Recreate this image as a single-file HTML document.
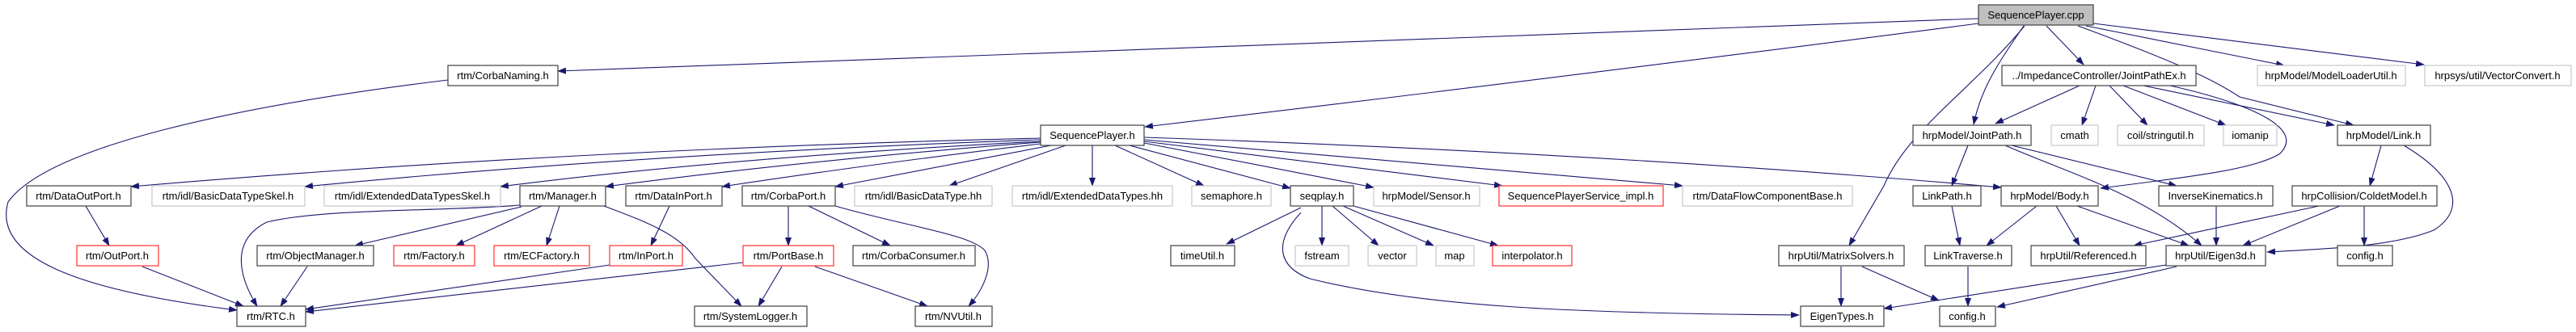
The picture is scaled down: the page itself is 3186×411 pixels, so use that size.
<!DOCTYPE html>
<html><head><meta charset="utf-8"><style>
html,body{margin:0;padding:0;background:#fff}
svg{display:block}
text{font-family:"Liberation Sans",Arial,sans-serif;font-size:13px;fill:#000}
.e{fill:none;stroke:#191970;stroke-width:1.1}
.k rect{fill:#fff;stroke:#404040;stroke-width:1.2}
.r rect{fill:#fff;stroke:#ff3030;stroke-width:1.2}
.g rect{fill:#fff;stroke:#c8c8c8;stroke-width:1.2}
.c rect{fill:#bfbfbf;stroke:#404040;stroke-width:1.2}
</style></head><body>
<svg width="3186" height="411" viewBox="0 0 3186 411" xmlns="http://www.w3.org/2000/svg">
<defs><marker id="a" markerWidth="11" markerHeight="8" refX="10" refY="4" orient="auto" markerUnits="userSpaceOnUse"><path d="M0,0L11,4L0,8z" fill="#191970"/></marker></defs>
<g class="e" marker-end="url(#a)">
<!-- from cpp -->
<path d="M2447,23 L690,88"/>
<path d="M2447,29 Q1900,100 1416,157"/>
<path d="M2504,32 C2440,110 2360,160 2330,230 L2287,304"/>
<path d="M2503,32 C2470,80 2450,110 2441,154"/>
<path d="M2531,32 L2577,80"/>
<path d="M2570,32 C2700,80 2740,100 2770,120 L2911,155"/>
<path d="M2580,32 L2825,81"/>
<path d="M2589,29 L2998,80"/>
<!-- from JointPathEx -->
<path d="M2572,106 L2468,153"/>
<path d="M2592,106 L2575,155"/>
<path d="M2609,106 L2656,155"/>
<path d="M2626,106 L2753,155"/>
<path d="M2651,106 L2887,155"/>
<path d="M2684,106 C2790,130 2850,160 2820,190 C2790,210 2700,220 2598,233"/>
<!-- from JointPath -->
<path d="M2434,180 L2414,230"/>
<path d="M2488,180 L2692,230"/>
<path d="M2480,180 C2560,215 2650,240 2723,304"/>
<!-- SequencePlayer.h -->
<path d="M1287,171 Q700,185 162,231"/>
<path d="M1287,173 Q800,190 377,231"/>
<path d="M1287,175 Q900,195 619,231"/>
<path d="M1287,176 Q1000,198 749,231"/>
<path d="M1287,178 Q1100,200 893,231"/>
<path d="M1300,180 L1033,231"/>
<path d="M1318,180 L1174,230"/>
<path d="M1351,180 L1351,230"/>
<path d="M1379,180 L1489,230"/>
<path d="M1397,180 L1596,233"/>
<path d="M1415,177 L1699,232"/>
<path d="M1415,175 L1858,230"/>
<path d="M1415,173 L2081,230"/>
<path d="M1415,170 Q2000,190 2475,232"/>
<!-- row 230 -->
<path d="M106,255 L135,304"/>
<path d="M643,254 C540,262 400,258 330,275 C280,300 300,350 318,379"/>
<path d="M645,256 L439,304"/>
<path d="M670,255 L564,304"/>
<path d="M692,255 L676,304"/>
<path d="M747,255 C800,275 840,290 860,320 L917,379"/>
<path d="M828,255 L805,304"/>
<path d="M975,255 L975,304"/>
<path d="M1000,255 L1101,304"/>
<path d="M1033,255 C1120,280 1200,290 1218,310 C1230,330 1215,360 1198,379"/>
<path d="M554,99 C300,130 60,180 10,250 C-10,320 100,360 293,384"/>
<!-- row 304 -->
<path d="M176,330 L301,379"/>
<path d="M380,330 L347,379"/>
<path d="M754,328 L378,383"/>
<path d="M919,325 L378,386"/>
<path d="M967,330 L938,379"/>
<path d="M1008,330 L1147,379"/>
<!-- seqplay -->
<path d="M1609,257 L1517,302"/>
<path d="M1635,255 L1635,304"/>
<path d="M1648,255 L1705,304"/>
<path d="M1661,255 L1773,304"/>
<path d="M1674,255 L1853,304"/>
<path d="M1609,263 C1575,300 1580,330 1620,345 C1760,380 1950,388 2225,390"/>
<!-- lower right -->
<path d="M2277,330 L2277,379"/>
<path d="M2303,330 L2398,372"/>
<path d="M2679,328 L2330,382"/>
<path d="M2692,330 L2470,380"/>
<path d="M2434,330 L2434,379"/>
<path d="M2414,255 L2424,304"/>
<path d="M2519,255 L2457,304"/>
<path d="M2543,255 L2572,304"/>
<path d="M2569,255 L2707,304"/>
<path d="M2741,255 L2741,304"/>
<path d="M2945,180 L2931,230"/>
<path d="M2973,180 C3040,220 3050,260 3010,285 C2960,305 2880,308 2804,312"/>
<path d="M2868,255 L2639,304"/>
<path d="M2894,255 L2774,304"/>
<path d="M2924,255 L2924,304"/>
</g>
<g text-anchor="middle">
<g class="c"><rect x="2447" y="6" width="142" height="25"/><text x="2518" y="23">SequencePlayer.cpp</text></g>
<g class="k"><rect x="554" y="81" width="136" height="25"/><text x="622" y="98">rtm/CorbaNaming.h</text></g>
<g class="k"><rect x="2476" y="81" width="240" height="25"/><text x="2596" y="98">../ImpedanceController/JointPathEx.h</text></g>
<g class="g"><rect x="2792" y="81" width="183" height="25"/><text x="2883" y="98">hrpModel/ModelLoaderUtil.h</text></g>
<g class="g"><rect x="2999" y="81" width="181" height="25"/><text x="3089" y="98">hrpsys/util/VectorConvert.h</text></g>
<g class="k"><rect x="1287" y="155" width="128" height="25"/><text x="1351" y="172">SequencePlayer.h</text></g>
<g class="k"><rect x="2366" y="155" width="146" height="25"/><text x="2439" y="172">hrpModel/JointPath.h</text></g>
<g class="g"><rect x="2537" y="155" width="58" height="25"/><text x="2566" y="172">cmath</text></g>
<g class="g"><rect x="2619" y="155" width="107" height="25"/><text x="2672" y="172">coil/stringutil.h</text></g>
<g class="g"><rect x="2750" y="155" width="66" height="25"/><text x="2783" y="172">iomanip</text></g>
<g class="k"><rect x="2891" y="155" width="115" height="25"/><text x="2948" y="172">hrpModel/Link.h</text></g>
<g class="k"><rect x="33" y="230" width="129" height="25"/><text x="97" y="247">rtm/DataOutPort.h</text></g>
<g class="g"><rect x="188" y="230" width="189" height="25"/><text x="282" y="247">rtm/idl/BasicDataTypeSkel.h</text></g>
<g class="g"><rect x="401" y="230" width="218" height="25"/><text x="510" y="247">rtm/idl/ExtendedDataTypesSkel.h</text></g>
<g class="k"><rect x="643" y="230" width="106" height="25"/><text x="696" y="247">rtm/Manager.h</text></g>
<g class="k"><rect x="774" y="230" width="119" height="25"/><text x="833" y="247">rtm/DataInPort.h</text></g>
<g class="k"><rect x="918" y="230" width="115" height="25"/><text x="975" y="247">rtm/CorbaPort.h</text></g>
<g class="g"><rect x="1057" y="230" width="170" height="25"/><text x="1142" y="247">rtm/idl/BasicDataType.hh</text></g>
<g class="g"><rect x="1252" y="230" width="198" height="25"/><text x="1351" y="247">rtm/idl/ExtendedDataTypes.hh</text></g>
<g class="g"><rect x="1474" y="230" width="98" height="25"/><text x="1523" y="247">semaphore.h</text></g>
<g class="k"><rect x="1596" y="230" width="78" height="25"/><text x="1635" y="247">seqplay.h</text></g>
<g class="g"><rect x="1699" y="230" width="131" height="25"/><text x="1764" y="247">hrpModel/Sensor.h</text></g>
<g class="r"><rect x="1854" y="230" width="203" height="25"/><text x="1955" y="247">SequencePlayerService_impl.h</text></g>
<g class="g"><rect x="2081" y="230" width="210" height="25"/><text x="2186" y="247">rtm/DataFlowComponentBase.h</text></g>
<g class="k"><rect x="2366" y="230" width="84" height="25"/><text x="2408" y="247">LinkPath.h</text></g>
<g class="k"><rect x="2475" y="230" width="120" height="25"/><text x="2535" y="247">hrpModel/Body.h</text></g>
<g class="k"><rect x="2670" y="230" width="141" height="25"/><text x="2740" y="247">InverseKinematics.h</text></g>
<g class="k"><rect x="2835" y="230" width="179" height="25"/><text x="2924" y="247">hrpCollision/ColdetModel.h</text></g>
<g class="r"><rect x="95" y="304" width="101" height="25"/><text x="145" y="321">rtm/OutPort.h</text></g>
<g class="k"><rect x="318" y="304" width="144" height="25"/><text x="390" y="321">rtm/ObjectManager.h</text></g>
<g class="r"><rect x="487" y="304" width="100" height="25"/><text x="537" y="321">rtm/Factory.h</text></g>
<g class="r"><rect x="611" y="304" width="118" height="25"/><text x="670" y="321">rtm/ECFactory.h</text></g>
<g class="r"><rect x="754" y="304" width="90" height="25"/><text x="799" y="321">rtm/InPort.h</text></g>
<g class="r"><rect x="919" y="304" width="112" height="25"/><text x="975" y="321">rtm/PortBase.h</text></g>
<g class="k"><rect x="1055" y="304" width="151" height="25"/><text x="1130" y="321">rtm/CorbaConsumer.h</text></g>
<g class="k"><rect x="1448" y="304" width="79" height="25"/><text x="1487" y="321">timeUtil.h</text></g>
<g class="g"><rect x="1602" y="304" width="66" height="25"/><text x="1635" y="321">fstream</text></g>
<g class="g"><rect x="1692" y="304" width="60" height="25"/><text x="1722" y="321">vector</text></g>
<g class="g"><rect x="1776" y="304" width="47" height="25"/><text x="1799" y="321">map</text></g>
<g class="r"><rect x="1846" y="304" width="98" height="25"/><text x="1895" y="321">interpolator.h</text></g>
<g class="k"><rect x="2200" y="304" width="155" height="25"/><text x="2277" y="321">hrpUtil/MatrixSolvers.h</text></g>
<g class="k"><rect x="2381" y="304" width="107" height="25"/><text x="2434" y="321">LinkTraverse.h</text></g>
<g class="k"><rect x="2512" y="304" width="142" height="25"/><text x="2583" y="321">hrpUtil/Referenced.h</text></g>
<g class="k"><rect x="2679" y="304" width="123" height="25"/><text x="2740" y="321">hrpUtil/Eigen3d.h</text></g>
<g class="k"><rect x="2891" y="304" width="68" height="25"/><text x="2925" y="321">config.h</text></g>
<g class="k"><rect x="293" y="379" width="85" height="25"/><text x="335" y="396">rtm/RTC.h</text></g>
<g class="k"><rect x="859" y="379" width="139" height="25"/><text x="928" y="396">rtm/SystemLogger.h</text></g>
<g class="k"><rect x="1132" y="379" width="95" height="25"/><text x="1179" y="396">rtm/NVUtil.h</text></g>
<g class="k"><rect x="2227" y="379" width="103" height="25"/><text x="2278" y="396">EigenTypes.h</text></g>
<g class="k"><rect x="2399" y="379" width="69" height="25"/><text x="2433" y="396">config.h</text></g>
</g>
</svg>
</body></html>
